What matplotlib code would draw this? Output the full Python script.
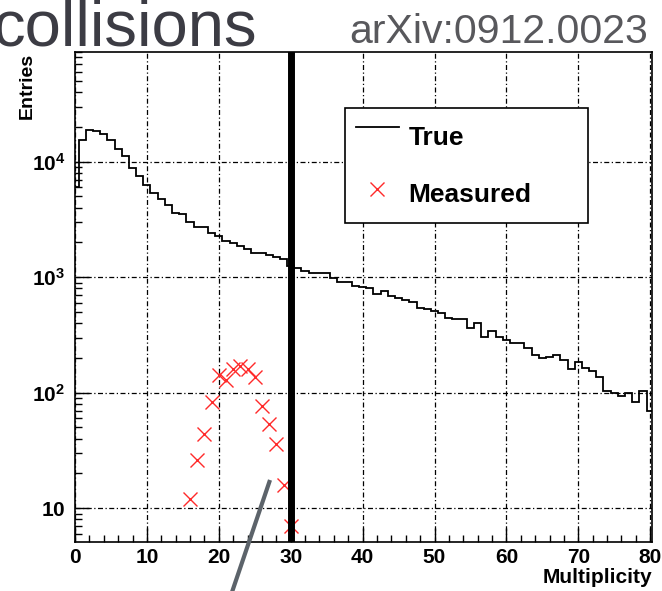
import matplotlib
matplotlib.use("Agg")
import matplotlib.pyplot as plt
import numpy as np
from matplotlib.lines import Line2D
from matplotlib.ticker import FixedLocator, LogLocator, NullFormatter, FuncFormatter

plt.rcParams["font.family"] = ["Liberation Sans", "DejaVu Sans"]
plt.rcParams["mathtext.fontset"] = "custom"
plt.rcParams["mathtext.bf"] = "Liberation Sans:bold"
plt.rcParams["mathtext.rm"] = "Liberation Sans:bold"

# generated (true) multiplicity distribution, one bin per integer 0..80
true_counts = [
    6000, 15300, 18700, 18500, 17300, 15300, 12900, 11200, 8860, 7490,
    6340, 5400, 4710, 4180, 3600, 3550, 2990, 2700, 2700, 2410,
    2290, 2070, 1960, 1870, 1750, 1630, 1610, 1560, 1510, 1430,
    1250, 1190, 1128, 1091, 1077, 1091, 987, 910, 910, 834,
    818, 807, 715, 765, 682, 660, 629, 609, 546, 530,
    515, 488, 447, 432, 432, 361, 399, 305, 344, 305,
    285, 272, 272, 244, 211, 200, 205, 212, 192, 160,
    183, 165, 155, 137, 103, 100, 93.5, 100, 83.4, 103,
    69,
]
true_mult = np.arange(len(true_counts))

# measured multiplicity
meas_mult = [16, 17, 18, 19, 20, 21, 22, 23, 24, 25, 26, 27, 28, 29, 30]
meas_counts = [12, 26, 44, 83, 141, 128, 160, 172, 160, 138, 77, 54, 36, 16, 7]

cut_value = 30

fig = plt.figure(figsize=(6.62, 5.91), dpi=100)
ax = fig.add_axes([75 / 662, 49 / 591, 577 / 662, 490.5 / 591])

edges = np.append(true_mult - 0.5, true_mult[-1] + 0.5)
ax.stairs(true_counts, edges, color="black", lw=1.3, label="True", zorder=3)
ax.plot(meas_mult, meas_counts, ls="none", marker="x", ms=10.5, mew=1.0,
        color="#ff2a2a", label="Measured", zorder=4)
ax.axvline(cut_value, color="black", lw=5, zorder=5)

ax.set_yscale("log")
ax.set_xlim(0, 80.25)
ax.set_ylim(5.1, 9.0e4)

# ROOT-like frame, ticks and grid
ax.xaxis.set_major_locator(FixedLocator(np.arange(0, 81, 10)))
ax.xaxis.set_minor_locator(FixedLocator(np.arange(0, 81, 2)))
ax.yaxis.set_major_locator(LogLocator(base=10))
ax.yaxis.set_minor_locator(LogLocator(base=10, subs=np.arange(2, 10)))
ax.yaxis.set_minor_formatter(NullFormatter())


def log_label(v, pos):
    e = int(round(np.log10(v)))
    if e == 1:
        return r"$\mathbf{10}$"
    return r"$\mathbf{10^{%d}}$" % e


ax.yaxis.set_major_formatter(FuncFormatter(log_label))
ax.tick_params(which="both", direction="in", top=False, right=False,
               labelsize=15, width=1.0, color="black")
ax.tick_params(axis="y", which="major", length=10, pad=7)
ax.tick_params(axis="y", which="minor", length=5)
ax.tick_params(axis="x", which="major", length=10, pad=4)
ax.tick_params(axis="x", which="minor", length=5)
for lab in ax.get_xticklabels():
    lab.set_fontweight("bold")

ax.grid(True, which="major", color="black", lw=0.9, ls=(0, (4, 2, 1, 2)))
for sp in ax.spines.values():
    sp.set_linewidth(1.2)

ax.set_xlabel("Multiplicity", fontsize=15, fontweight="bold", loc="right")
ax.xaxis.set_label_coords(1.0, -0.053)
ax.set_ylabel("Entries", fontsize=14, fontweight="bold", loc="top")
ax.yaxis.set_label_coords(-0.068, 0.997)

leg = ax.legend(loc="upper left", bbox_to_anchor=(0.468, 0.785, 0.421, 0.1),
                mode="expand", prop={"weight": "bold", "size": 19},
                frameon=True, fancybox=False, framealpha=1, edgecolor="black",
                borderpad=0.4, labelspacing=0.78, handlelength=1.65,
                handleheight=1.75, handletextpad=0.35, borderaxespad=0)
leg.get_frame().set_linewidth(1.2)
leg.set_zorder(6)

# slide header text around the plot
fig.text(-8 / 662, 1 - 45 / 591, "collisions", fontsize=47, color="#3c3c44",
         ha="left", va="baseline")
fig.text(648 / 662, 1 - 43 / 591, "arXiv:0912.0023", fontsize=29.5,
         color="#58585c", ha="right", va="baseline")

# grey pointer line from the slide overlay
fig.add_artist(Line2D([270 / 662, 230 / 662], [1 - 480 / 591, 1 - 598 / 591],
                      transform=fig.transFigure, color="#5c636a", lw=3,
                      solid_capstyle="butt", zorder=10))

fig.savefig("out.png", dpi=100)
